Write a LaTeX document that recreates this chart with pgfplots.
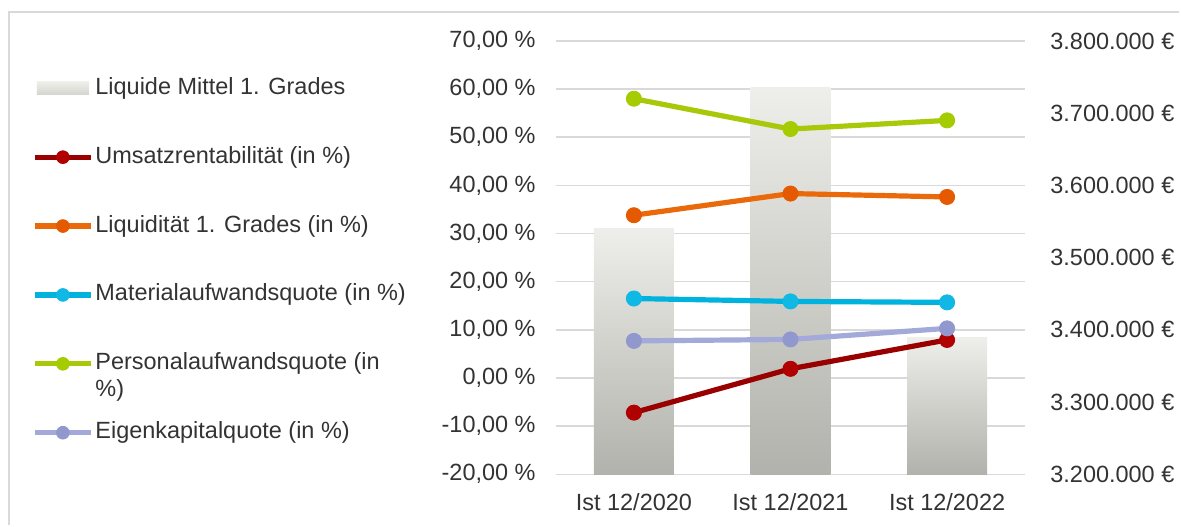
\documentclass[border=0pt]{standalone}
\usepackage{fontspec}
\setmainfont{Liberation Sans}
\usepackage{pgfplots}
\pgfplotsset{compat=1.18}
\definecolor{gridgray}{HTML}{D9D9D9}
\definecolor{labelgray}{HTML}{333333}
\definecolor{bartop}{HTML}{EEEEEA}
\definecolor{barbot}{HTML}{B2B2AC}
\definecolor{barmid}{HTML}{D4D4CF}
\definecolor{umsatz}{HTML}{990000}
\definecolor{umsatzM}{HTML}{B00000}
\definecolor{liqui}{HTML}{EA6A0B}
\definecolor{liquiM}{HTML}{E55A00}
\definecolor{material}{HTML}{00B2DE}
\definecolor{materialM}{HTML}{10B8E4}
\definecolor{personal}{HTML}{A8C80A}
\definecolor{personalM}{HTML}{A5CC00}
\definecolor{eigen}{HTML}{A3A9D8}
\definecolor{eigenM}{HTML}{9198CE}
\begin{document}
\begin{tikzpicture}[font=\fontsize{11.75pt}{13.5pt}\selectfont]
\path (0,0) rectangle (590.5pt,263pt);
\draw[gridgray, line width=1pt] (4.5pt,0pt) -- (4.5pt,257pt) -- (590.5pt,257pt);

% Axis 1: bars on the right y axis
\begin{axis}[
  set layers,
  at={(278.25pt,25.5pt)}, anchor=south west,
  scale only axis, width=235.25pt, height=217pt,
  xmin=-0.5, xmax=2.5,
  xtick=\empty,
  axis y line*=right,
  axis x line*=bottom,
  axis line style={draw=none},
  ymin=3200000, ymax=3800000,
  scaled y ticks=false,
  ytick={3200000,3300000,3400000,3500000,3600000,3700000,3800000},
  yticklabels={3.200.000 €,3.300.000 €,3.400.000 €,3.500.000 €,3.600.000 €,3.700.000 €,3.800.000 €},
  major tick length=0pt,
  yticklabel style={text=labelgray, xshift=9pt},
  ybar, bar width=40pt, bar shift=0pt,
]
\addplot[draw=none, top color=bartop, bottom color=barbot] coordinates {(0,3540000)};
\addplot[draw=none, top color=bartop, bottom color=barbot] coordinates {(1,3735000)};
\addplot[draw=none, top color=bartop, bottom color=barbot] coordinates {(2,3389000)};
\end{axis}

% Axis 2: lines on the left y axis
\begin{axis}[
  set layers,
  at={(278.25pt,25.5pt)}, anchor=south west,
  scale only axis, width=235.25pt, height=217pt,
  xmin=-0.5, xmax=2.5,
  xtick={0,1,2}, xticklabels={Ist 12/2020,Ist 12/2021,Ist 12/2022},
  axis y line*=left, axis x line*=bottom,
  axis line style={draw=none},
  ymin=-20, ymax=70, ytick={-20,-10,...,70},
  ymajorgrids, grid style={gridgray, line width=0.75pt},
  major tick length=0pt,
  /pgf/number format/assume math mode=true,
  yticklabel={\pgfmathprintnumber[fixed,fixed zerofill,precision=2,use comma]{\tick} \%},
  ticklabel style={text=labelgray},
  yticklabel style={xshift=-6.5pt},
  xticklabel style={yshift=-6pt},
  legend style={at={(axis description cs:-1.1148,0.9194)}, anchor=north west,
    draw=none, fill=none, inner sep=0pt, row sep=22.5pt, column sep=1pt,
    text=labelgray,
    nodes={inner sep=0pt, text height=9pt, text depth=3pt}},
  legend cell align=left,
  every axis plot/.append style={line width=2.6pt, mark=*, mark size=3.8pt},
  legend image code/.code={\draw[mark repeat=2,mark phase=2,#1,mark size=3.2pt] plot coordinates {(0pt,0pt) (14pt,0pt) (28pt,0pt)};},
]
\addlegendimage{draw=none, legend image code/.code={\path[draw=none, top color=bartop, bottom color=barmid] (1pt,-3.25pt) rectangle (27pt,3.25pt);}}
\addlegendentry{Liquide Mittel 1. Grades}
\addplot[color=umsatz, mark options={fill=umsatzM, draw=umsatzM, line width=0.4pt}] coordinates {(0,-7.2) (1,1.9) (2,7.9)};
\addlegendentry{Umsatzrentabilität (in \%)}
\addplot[color=liqui, mark options={fill=liquiM, draw=liquiM, line width=0.4pt}] coordinates {(0,33.8) (1,38.3) (2,37.6)};
\addlegendentry{Liquidität 1. Grades (in \%)}
\addplot[color=material, mark options={fill=materialM, draw=materialM, line width=0.4pt}] coordinates {(0,16.5) (1,15.9) (2,15.7)};
\addlegendentry{Materialaufwandsquote (in \%)}
\addplot[color=personal, mark options={fill=personalM, draw=personalM, line width=0.4pt}] coordinates {(0,58.0) (1,51.7) (2,53.5)};
\addlegendentry{\begin{tabular}[t]{@{}l@{}}Personalaufwandsquote (in\\\%)\end{tabular}}
\addplot[color=eigen, mark options={fill=eigenM, draw=eigenM, line width=0.4pt}] coordinates {(0,7.7) (1,8.0) (2,10.3)};
\addlegendentry{Eigenkapitalquote (in \%)}
\end{axis}
\end{tikzpicture}
\end{document}
